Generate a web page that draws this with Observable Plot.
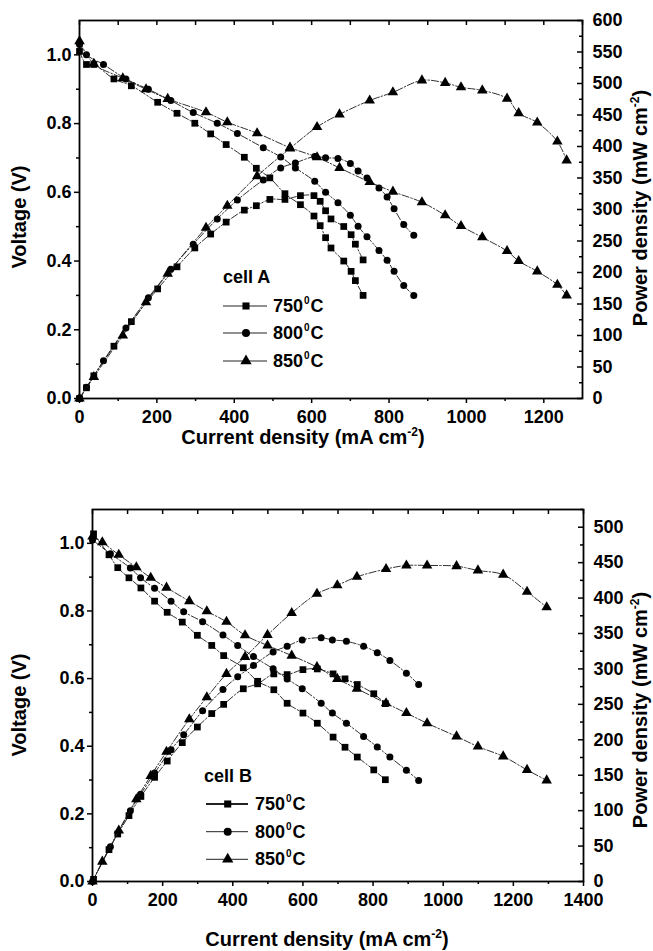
<!DOCTYPE html>
<html><head><meta charset="utf-8">
<script src="https://cdn.jsdelivr.net/npm/d3@7"></script>
<script src="https://cdn.jsdelivr.net/npm/@observablehq/plot@0.6"></script>
<style>
body{margin:0;background:#fff;}
#chart{width:653px;}
#chart svg{display:block;}
</style></head><body><div id="chart"></div>
<script>
// ---------- shared ----------
const temps = ["750", "800", "850"];
const symbols = ["square", "circle", "triangle"];
const vTicks = [0, 0.2, 0.4, 0.6, 0.8, 1.0];
const vMinor = [0.1, 0.3, 0.5, 0.7, 0.9];

// ---------- cell A (top panel) ----------
const A750_I = [0, 18, 37, 89, 134, 202, 252, 298, 339, 379, 426, 457, 492, 531, 571, 606, 622, 636, 650, 683, 702, 713, 733];
const A750_V = [1.01, .972, .972, .930, .910, .862, .830, .801, .770, .739, .702, .670, .642, .596, .564, .531, .503, .468, .438, .400, .370, .343, .300];
const A750_P = [0, 17, 36, 83, 122, 174, 209, 239, 261, 280, 299, 306, 316, 316, 322, 322, 313, 298, 285, 273, 260, 245, 220];

const A800_I = [0, 18, 62, 120, 178, 236, 294, 356, 408, 475, 520, 558, 608, 636, 668, 700, 720, 743, 774, 795, 813, 838, 864];
const A800_V = [1.03, 1.0, .972, .930, .90, .867, .832, .801, .771, .730, .703, .671, .632, .60, .57, .533, .501, .471, .431, .402, .37, .329, .30];
const A800_P = [0, 18, 60, 112, 160, 205, 245, 285, 315, 347, 366, 374, 384, 382, 381, 373, 361, 350, 334, 320, 301, 276, 259];

const A850_I = [0, 37, 112, 172, 228, 327, 382, 459, 544, 614, 672, 750, 810, 885, 945, 986, 1041, 1105, 1135, 1183, 1235, 1259];
const A850_V = [1.04, .974, .932, .90, .872, .833, .804, .772, .73, .702, .671, .63, .602, .571, .533, .502, .469, .429, .40, .37, .331, .30];
const A850_P = [0, 34, 100, 153, 198, 271, 306, 353, 397, 431, 451, 473, 486, 505, 501, 494, 489, 476, 453, 438, 408, 378];

const A_xMajor = [0, 200, 400, 600, 800, 1000, 1200];
const A_xMinor = [100, 300, 500, 700, 900, 1100, 1300];
const A_pMajor = [0, 50, 100, 150, 200, 250, 300, 350, 400, 450, 500, 550, 600];
const A_pMinor = [25, 75, 125, 175, 225, 275, 325, 375, 425, 475, 525, 575];

// ---------- cell B (bottom panel) ----------
const B750_I = [3, 47, 72, 104, 138, 177, 213, 256, 299, 340, 374, 430, 471, 517, 555, 600, 641, 686, 720, 755, 802, 835];
const B750_V = [1.028, .966, .928, .898, .868, .829, .796, .767, .728, .698, .668, .632, .592, .567, .527, .498, .468, .427, .397, .368, .330, .301];
const B750_P = [3, 45, 67, 93, 120, 147, 170, 196, 218, 237, 250, 272, 279, 293, 292, 299, 300, 293, 286, 278, 265, 251];

const B800_I = [0, 51, 108, 137, 177, 224, 260, 314, 372, 414, 459, 515, 555, 598, 652, 684, 724, 773, 812, 848, 895, 930];
const B800_V = [1.01, .969, .927, .898, .867, .829, .798, .768, .729, .698, .665, .629, .599, .570, .527, .498, .468, .429, .398, .368, .329, .299];
const B800_P = [0, 49, 100, 123, 153, 186, 207, 241, 271, 289, 305, 324, 332, 341, 344, 341, 339, 332, 323, 312, 294, 278];

const B850_I = [0, 28, 75, 125, 166, 211, 276, 326, 382, 435, 499, 568, 640, 698, 754, 837, 895, 954, 1038, 1099, 1171, 1239, 1295];
const B850_V = [1.02, 1.003, .966, .929, .898, .869, .829, .799, .768, .728, .698, .668, .634, .599, .570, .527, .498, .468, .429, .399, .370, .330, .299];
const B850_P = [0, 28, 72, 116, 149, 183, 229, 260, 293, 317, 348, 379, 406, 418, 430, 441, 446, 446, 445, 439, 433, 409, 387];

const B_xMajor = [0, 200, 400, 600, 800, 1000, 1200, 1400];
const B_xMinor = [100, 300, 500, 700, 900, 1100, 1300];
const B_pMajor = [0, 50, 100, 150, 200, 250, 300, 350, 400, 450, 500];
const B_pMinor = [25, 75, 125, 175, 225, 275, 325, 375, 425, 475, 525];

// ---------- drawing ----------
const FONT = "'Liberation Sans', Arial, Helvetica, sans-serif";
const radii = [3.8, 3.5, 3.9];
const d3sym = {square: d3.symbolSquare, circle: d3.symbolCircle, triangle: d3.symbolTriangle};

function makePanel(o) {
  const W = 653;
  const k = 1.1 / o.pMax;
  const iw = W - o.ml - o.mr, ih = o.height - o.mt - o.mb;
  const marks = [];
  for (let s = 0; s < 3; s++) {
    const rows = o.I[s].map((x, i) => ({x, v: o.V[s][i], p: o.P[s][i] * k}));
    const ls = {x: "x", stroke: "#1a1a1a", strokeWidth: 0.9, strokeDasharray: "7 2 1.5 2", curve: "catmull-rom"};
    marks.push(Plot.line(rows, {...ls, y: "v"}), Plot.line(rows, {...ls, y: "p"}));
    const ds = {x: "x", symbol: symbols[s], r: radii[s], fill: "#000", stroke: "none"};
    marks.push(Plot.dot(rows, {...ds, y: "v"}), Plot.dot(rows, {...ds, y: "p"}));
  }
  const xTop = [...o.xMajor, ...o.xMinor].filter(d => d <= o.xMax);
  marks.push(
    Plot.axisY({ticks: vTicks, anchor: "left", tickSize: 5, tickPadding: 3, tickFormat: d3.format(".1f"), label: null, strokeWidth: 1.5}),
    Plot.axisY({ticks: vMinor, anchor: "left", tickSize: 3, tickPadding: 3, tickFormat: () => "", label: null, strokeWidth: 1.5}),
    Plot.axisX({ticks: o.xMajor, anchor: "bottom", tickSize: 5, tickPadding: 7, tickFormat: d3.format("d"), label: null, strokeWidth: 1.5}),
    Plot.axisX({ticks: o.xMinor.filter(d => d < o.xMax), anchor: "bottom", tickSize: 3, tickFormat: () => "", label: null, strokeWidth: 1.5}),
    Plot.tickX(xTop, {x: d => d, insetBottom: ih - 5, strokeWidth: 1.5, stroke: "#000"}),
    Plot.axisY({ticks: o.pMajor.map(p => p * k), anchor: "right", tickSize: 0, tickPadding: 10, tickFormat: v => String(Math.round(v / k)), label: null}),
    Plot.tickY(o.pMajor.map(p => p * k), {y: d => d, insetLeft: iw - 5, strokeWidth: 1.5, stroke: "#000"}),
    Plot.tickY(o.pMinor.map(p => p * k), {y: d => d, insetLeft: iw - 3, strokeWidth: 1.5, stroke: "#000"}),
    Plot.frame({stroke: "#000", strokeWidth: 1.8})
  );
  const svg = Plot.plot({
    width: W, height: o.height,
    marginTop: o.mt, marginRight: o.mr, marginBottom: o.mb, marginLeft: o.ml,
    style: {fontFamily: FONT, fontSize: "18px", fontWeight: "bold", color: "#000", background: "#fff"},
    x: {type: "linear", domain: [0, o.xMax], axis: null},
    y: {type: "linear", domain: [0, 1.1], axis: null},
    marks
  });
  const g = d3.select(svg).append("g").attr("font-family", FONT).attr("font-weight", "bold")
    .attr("fill", "#000").attr("text-anchor", "start");

  // axis titles
  const xt = g.append("text").attr("x", o.xTitle[0]).attr("y", o.xTitle[1]).attr("text-anchor", "middle").attr("font-size", 20);
  xt.append("tspan").text("Current density (mA cm");
  xt.append("tspan").attr("font-size", 12).attr("dy", -8).text("-2");
  xt.append("tspan").attr("dy", 8).text(")");

  g.append("text").attr("transform", `translate(${o.yTitle[0]},${o.yTitle[1]}) rotate(-90)`)
    .attr("text-anchor", "middle").attr("font-size", 20).text("Voltage (V)");

  const pt = g.append("text").attr("transform", `translate(${o.pTitle[0]},${o.pTitle[1]}) rotate(-90)`)
    .attr("text-anchor", "middle").attr("font-size", 20);
  pt.append("tspan").text("Power density (mW cm");
  pt.append("tspan").attr("font-size", 12).attr("dy", -8).text("-2");
  pt.append("tspan").attr("dy", 8).text(")");

  // legend
  const L = o.legend;
  g.append("text").attr("x", L.x).attr("y", L.titleY).attr("font-size", 18).attr("text-anchor", "start").text(L.title);
  for (let s = 0; s < 3; s++) {
    const y = L.ys[s];
    g.append("line").attr("x1", L.x1).attr("x2", L.x2).attr("y1", y).attr("y2", y)
      .attr("stroke", "#222").attr("stroke-width", L.lw[s]);
    const area = symbols[s] === "triangle" ? Math.PI * 4.2 * 4.2 : Math.PI * 4 * 4;
    g.append("path").attr("transform", `translate(${L.mx},${y})`)
      .attr("d", d3.symbol().type(d3sym[symbols[s]]).size(area)()).attr("fill", "#000");
    const t = g.append("text").attr("x", L.tx).attr("y", y + 6).attr("font-size", 18).attr("text-anchor", "start");
    t.append("tspan").text(temps[s]);
    t.append("tspan").attr("font-size", 10).attr("dy", -8).attr("dx", 1).text("0");
    t.append("tspan").attr("dy", 8).attr("dx", 1).text("C");
  }
  return svg;
}

const topSvg = makePanel({
  I: [A750_I, A800_I, A850_I], V: [A750_V, A800_V, A850_V], P: [A750_P, A800_P, A850_P],
  height: 460, mt: 20, mr: 71, mb: 62, ml: 79,
  xMax: 1300, xMajor: A_xMajor, xMinor: A_xMinor,
  pMax: 600, pMajor: A_pMajor, pMinor: A_pMinor,
  xTitle: [303, 444], yTitle: [26, 217], pTitle: [647, 208],
  legend: {title: "cell A", x: 223, titleY: 283, ys: [306, 333, 361], x1: 223, x2: 267, mx: 246, tx: 273, lw: [1, 1, 1]}
});
const bottomSvg = makePanel({
  I: [B750_I, B800_I, B850_I], V: [B750_V, B800_V, B850_V], P: [B750_P, B800_P, B850_P],
  height: 491, mt: 49, mr: 70, mb: 70, ml: 92,
  xMax: 1400, xMajor: B_xMajor, xMinor: B_xMinor,
  pMax: 525, pMajor: B_pMajor, pMinor: B_pMinor,
  xTitle: [327, 486], yTitle: [26, 245], pTitle: [647, 250],
  legend: {title: "cell B", x: 204, titleY: 322, ys: [344, 371.7, 399.3], x1: 206, x2: 248, mx: 227.7, tx: 255, lw: [1.8, 1, 1]}
});
document.getElementById("chart").append(topSvg, bottomSvg);
</script></body></html>
